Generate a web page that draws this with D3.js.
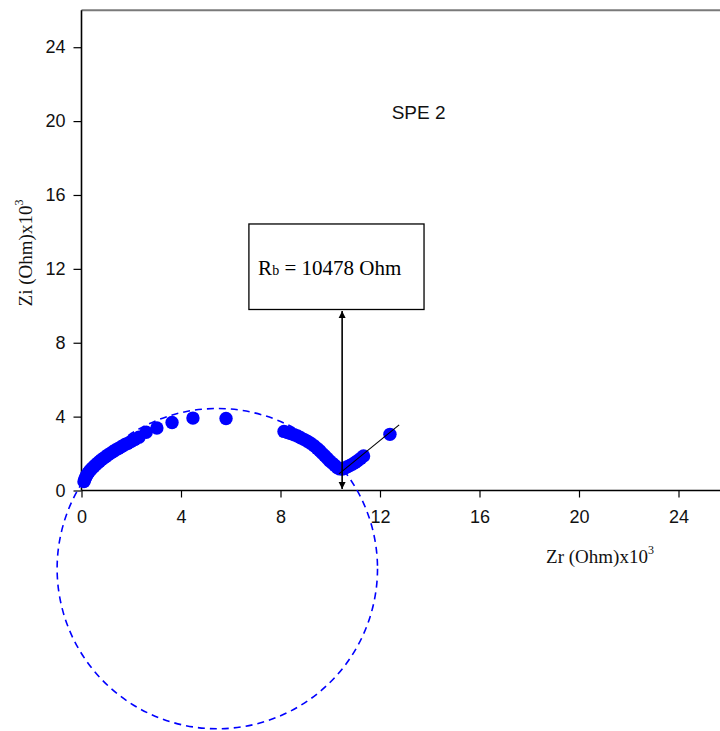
<!DOCTYPE html>
<html>
<head>
<meta charset="utf-8">
<script src="https://cdn.jsdelivr.net/npm/d3@7"></script>
<style>
  html, body { margin: 0; padding: 0; background: #fff; }
  svg { display: block; }
</style>
</head>
<body>
<svg id="chart" width="720" height="731"></svg>
<script>
// Nyquist plot of SPE 2: real vs imaginary impedance (both in kOhm)
const zr = [
  0.10, 0.13, 0.17, 0.21, 0.26, 0.31, 0.37, 0.43, 0.50, 0.57, 0.64, 0.72, 0.80, 0.88, 0.97,
  1.06, 1.16, 1.26, 1.37, 1.48, 1.60, 1.72, 1.85, 1.99, 2.14, 2.31, 2.60, 3.03, 3.64, 4.48, 5.81,
  8.14, 8.28, 8.41, 8.55, 8.68, 8.81, 8.94, 9.08, 9.21, 9.35, 9.48, 9.58, 9.68, 9.78, 9.88,
  9.98, 10.09, 10.19, 10.29, 10.39, 10.49, 10.59, 10.69, 10.80, 10.90, 11.00, 11.10, 11.22, 11.34, 12.40
];
const zi = [
  0.48, 0.60, 0.72, 0.83, 0.93, 1.03, 1.12, 1.21, 1.30, 1.39, 1.48, 1.57, 1.66, 1.74, 1.83,
  1.92, 2.01, 2.10, 2.19, 2.28, 2.37, 2.46, 2.55, 2.65, 2.76, 2.88, 3.15, 3.38, 3.68, 3.92, 3.90,
  3.20, 3.14, 3.09, 3.02, 2.95, 2.86, 2.77, 2.67, 2.56, 2.42, 2.28, 2.15, 2.01, 1.88, 1.74,
  1.60, 1.47, 1.35, 1.23, 1.17, 1.16, 1.22, 1.29, 1.36, 1.43, 1.52, 1.61, 1.73, 1.87, 3.04
];

// linear fit through the low-frequency spike
const spikeZr = [10.35, 12.77];
const spikeZi = [0.90, 3.55];

// fitted semicircle: centre and radii (Zr, Zi units)
const arcCentre = [5.46, -4.23];
const arcRadii = [6.44, 8.67];

// bulk resistance in Ohm
const bulkResistance = 10478;

const xTicks = [0, 4, 8, 12, 16, 20, 24];
const yTicks = [0, 4, 8, 12, 16, 20, 24];
const sampleName = "SPE 2";

const svg = d3.select("#chart");
const W = 720, H = 731;
svg.append("rect").attr("width", W).attr("height", H).attr("fill", "#fff");

const x = d3.scaleLinear().domain([0, 26]).range([81.5, 81.5 + 26 * 24.875]);
const y = d3.scaleLinear().domain([0, 26]).range([490.5, 490.5 - 26 * 18.47]);

const sans = "Arial, 'Liberation Sans', sans-serif";
const serif = "'Times New Roman', 'Liberation Serif', serif";
const blue = "#0000ff";

// frame top edge
svg.append("line")
  .attr("x1", x(0)).attr("x2", W)
  .attr("y1", y(26)).attr("y2", y(26))
  .attr("stroke", "#7a7a7a").attr("stroke-width", 2);

// axes
const xAxis = svg.append("g")
  .attr("transform", `translate(0,${y(0)})`)
  .call(d3.axisBottom(x).tickValues(xTicks).tickSize(7).tickPadding(13).tickSizeOuter(0));
const yAxis = svg.append("g")
  .attr("transform", `translate(${x(0)},0)`)
  .call(d3.axisLeft(y).tickValues(yTicks).tickSize(8).tickPadding(8).tickSizeOuter(0));

[xAxis, yAxis].forEach(g => {
  g.select(".domain").attr("stroke", "#000").attr("stroke-width", 1.6);
  g.selectAll(".tick line").attr("stroke", "#000").attr("stroke-width", 1.2);
  g.selectAll(".tick text").attr("fill", "#111").style("font-family", sans).style("font-size", "18px");
});
// x axis line runs to the right edge
xAxis.select(".domain").attr("d", `M${x(0)},0H${W}`);
yAxis.select(".domain").attr("d", `M0,${y(0)}V${y(26)}`);

// fitted semicircle (dashed)
svg.append("ellipse")
  .attr("cx", x(arcCentre[0])).attr("cy", y(arcCentre[1]))
  .attr("rx", x(arcCentre[0] + arcRadii[0]) - x(arcCentre[0]))
  .attr("ry", y(arcCentre[1]) - y(arcCentre[1] + arcRadii[1]))
  .attr("fill", "none").attr("stroke", blue)
  .attr("stroke-width", 1.6).attr("stroke-dasharray", "7,5");

// data points
svg.append("g").selectAll("circle")
  .data(d3.zip(zr, zi))
  .join("circle")
  .attr("cx", d => x(d[0])).attr("cy", d => y(d[1]))
  .attr("r", 6.7).attr("fill", blue);

// spike fit line
svg.append("line")
  .attr("x1", x(spikeZr[0])).attr("y1", y(spikeZi[0]))
  .attr("x2", x(spikeZr[1])).attr("y2", y(spikeZi[1]))
  .attr("stroke", "#000").attr("stroke-width", 1.1);

// annotation box
const box = { x0: 6.73, x1: 13.77, y0: 9.8, y1: 14.43 };
svg.append("rect")
  .attr("x", x(box.x0)).attr("y", y(box.y1))
  .attr("width", x(box.x1) - x(box.x0)).attr("height", y(box.y0) - y(box.y1))
  .attr("fill", "#fff").attr("stroke", "#000").attr("stroke-width", 1.3);

const rbText = svg.append("text")
  .attr("x", x(7.1)).attr("y", y(11.67))
  .style("font-family", serif).style("font-size", "21px").attr("fill", "#000");
rbText.append("tspan").text("R");
rbText.append("tspan").style("font-size", "14px").text("b");
rbText.append("tspan").text(` = ${bulkResistance} Ohm`);

// double-headed arrow marking Rb on the real axis
const defs = svg.append("defs");
defs.append("marker")
  .attr("id", "head").attr("viewBox", "0 0 10 10")
  .attr("refX", 10).attr("refY", 5)
  .attr("markerWidth", 7).attr("markerHeight", 9)
  .attr("markerUnits", "userSpaceOnUse")
  .attr("orient", "auto-start-reverse")
  .append("path").attr("d", "M0,0L10,5L0,10Z").attr("fill", "#000");

const rbX = x(bulkResistance / 1000);
svg.append("line")
  .attr("x1", rbX).attr("x2", rbX)
  .attr("y1", y(box.y0) + 1.5).attr("y2", y(0) - 1.5)
  .attr("stroke", "#000").attr("stroke-width", 1.6)
  .attr("marker-start", "url(#head)").attr("marker-end", "url(#head)");

// sample label
svg.append("text")
  .attr("x", x(12.47)).attr("y", y(20.1))
  .style("font-family", sans).style("font-size", "19px").attr("fill", "#111")
  .text(sampleName);

// axis titles
const xTitle = svg.append("text")
  .attr("x", 600).attr("y", 563)
  .attr("text-anchor", "middle")
  .style("font-family", serif).style("font-size", "19px").attr("fill", "#111");
xTitle.append("tspan").text("Zr (Ohm)x10");
xTitle.append("tspan").attr("dy", -9).style("font-size", "12px").text("3");

const yTitle = svg.append("text")
  .attr("transform", "translate(32,253) rotate(-90)")
  .attr("text-anchor", "middle")
  .style("font-family", serif).style("font-size", "19px").attr("fill", "#111");
yTitle.append("tspan").text("Zi (Ohm)x10");
yTitle.append("tspan").attr("dy", -9).style("font-size", "12px").text("3");
</script>
</body>
</html>
